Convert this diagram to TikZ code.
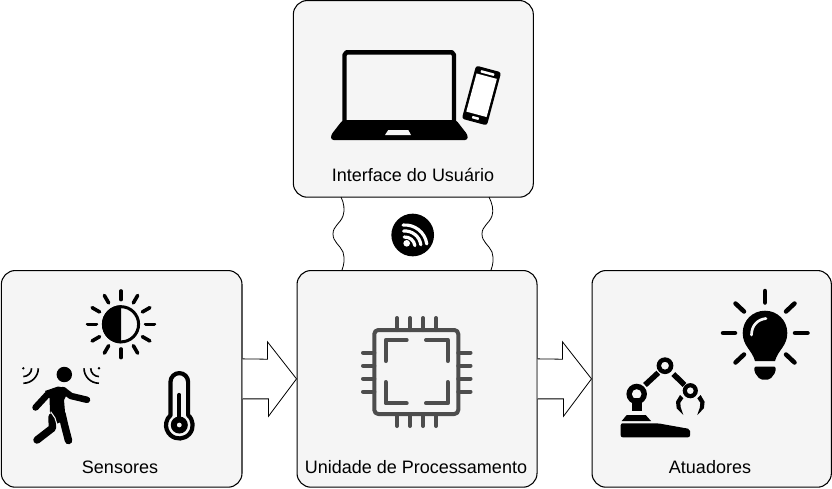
\documentclass[tikz,border=0pt]{standalone}
\usepackage{fontspec}
\setmainfont{Liberation Sans}
\usetikzlibrary{calc}
\definecolor{boxfill}{HTML}{F5F5F5}
\definecolor{chipgray}{HTML}{4D4D4D}
\tikzset{
  x=0.75pt,y=-0.75pt,
  panel/.style={draw=black,fill=boxfill,line width=0.8pt,rounded corners=10.5pt,inner sep=0pt},
  caption/.style={text=black,font=\fontsize{13.5pt}{15pt}\selectfont,inner sep=0pt,anchor=center},
  blockarrow/.style={draw=black,fill=white,line width=0.6pt,line join=miter},
  wavy/.style={draw=black,line width=0.6pt},
  ink/.style={line width=#1*0.75pt,line cap=round,line join=round,draw=black},
  chipline/.style={line width=3pt,line cap=round,line join=round,draw=chipgray},
}
\begin{document}
\begin{tikzpicture}
\useasboundingbox (0,0) rectangle (832,489);
% wavy connection lines
\coordinate (wa) at (341,197); \coordinate (wb) at (342,270);
\coordinate (wc) at (489,197); \coordinate (wd) at (491,270);
% panels
\node[panel,minimum width=180pt,minimum height=147.5pt,anchor=north west] (ui) at (292.8,0) {};
\node[panel,minimum width=180.5pt,minimum height=162.5pt,anchor=north west] (sens) at (0.8,270) {};
\node[panel,minimum width=180pt,minimum height=162.5pt,anchor=north west] (proc) at (296.5,270) {};
\node[panel,minimum width=179.5pt,minimum height=162.5pt,anchor=north west] (act) at (591.5,270) {};
\draw[wavy] (wa) .. controls (344,203) and (345,210) .. (343,216) .. controls (340,224) and (333,226) .. (333,234) .. controls (333,242) and (340,245) .. (343,252) .. controls (345,259) and (344,265) .. (wb);
\draw[wavy] (wc) .. controls (492,203) and (494,210) .. (492,216) .. controls (489,224) and (482,226) .. (482,234) .. controls (482,242) and (489,245) .. (492,252) .. controls (494,259) and (493,265) .. (wd);
% block arrows
\draw[blockarrow] ($(sens.east)+(0,-15pt)$) -- ++(19.5pt,0) -- ++(0,-13pt) -- (proc.west) -- ++(-21.75pt,27.75pt) -- ++(0,-13pt) -- ($(sens.east)+(0,15pt)$);
\draw[blockarrow] ($(proc.east)+(0,-15pt)$) -- ++(19.5pt,0) -- ++(0,-13pt) -- (act.west) -- ++(-21.75pt,27.75pt) -- ++(0,-13pt) -- ($(proc.east)+(0,15pt)$);
% captions
\node[caption] (tui) at (413,174.5) {Interface do Usuário};
\node[caption] (tsens) at (120,467) {Sensores};
\node[caption] (tproc) at (416,467) {Unidade de Processamento};
\node[caption] (tact) at (710,467) {Atuadores};
% wifi badge
\fill (412.7,235) circle[radius=16pt];
\fill[white] (406.7,243.3) circle[radius=2.5pt];
\foreach \r in {7.5,12,16.5}
  \draw[white,line width=2.4pt,line cap=round] (405,247) ++(95:\r pt) arc[start angle=95,end angle=8,radius=\r pt];
% laptop
\draw[black,line width=3.3pt,line join=round] (344.5,122) -- (344.5,55) -- (346.5,52.3) -- (452,52.3) -- (454,55) -- (454,122);
\fill[rounded corners=2pt] (342.7,120) -- (456,120) -- (467.7,135) -- (467.7,140) -- (331,140) -- (331,135) -- cycle;
\fill[boxfill] (388.3,130) -- (408.3,130) -- (411,135) -- (385,135) -- cycle;
% phone
\begin{scope}[shift={(481.5,95.5)},rotate=-15]
  \fill[rounded corners=2pt] (-13,-27.5) rectangle (13,27.5);
  \fill[white] (-10.5,-20) rectangle (10.5,19.5);
  \fill[white,rounded corners=0.5pt] (-7,-24.5) rectangle (7,-22);
  \fill[white,rounded corners=0.5pt] (-3.5,22) rectangle (3.5,24.5);
\end{scope}
% sun
\fill (121,324.3) ++(90:14.25pt) arc[start angle=90,end angle=270,radius=14.25pt] -- cycle;
\draw[ink=3] (121,324.3) circle[radius=13.2pt];
\foreach \a in {0,30,...,330}
  \draw[ink=3.6] (121,324.3) ++(\a:18.5pt) -- ++(\a:6.5pt);
% person
\fill (64.3,374.5) circle[radius=5.8pt];
\fill[line join=round] (45,391) -- (58,386.5) -- (66,388) -- (68,392) -- (64,400) -- (65,412) -- (66,420) -- (56,424) -- (50,412) -- (49.5,398) -- cycle;
\draw[ink=6.5] (51,393) -- (47,395) -- (35.5,407.5);
\draw[ink=6.5] (63,390) -- (71,396) -- (87,399.8);
\draw[ink=7.5] (62,414) -- (64.5,425) -- (68.5,440.5);
\draw[ink=7.5] (52,417) -- (52.5,428) -- (37,440);
\draw[boxfill,line width=0.8pt] (50.7,411.7) -- (55,418) -- (57.3,425.5);
% signal arcs
\fill (23.3,368.3) circle[radius=1pt];
\draw[ink=1.6,line cap=butt] (31.6,368.3) arc[start angle=0,end angle=-90,radius=6.2pt];
\draw[ink=1.6,line cap=butt] (38.3,368.3) arc[start angle=0,end angle=-90,radius=11.2pt];
\fill (99,368.3) circle[radius=1pt];
\draw[ink=1.6,line cap=butt] (90.7,368.3) arc[start angle=180,end angle=270,radius=6.2pt];
\draw[ink=1.6,line cap=butt] (84,368.3) arc[start angle=180,end angle=270,radius=11.2pt];
% thermometer
\draw[ink=4.2] (170.5,415.1) -- (170.5,381.9) arc[start angle=180,end angle=0,radius=6.6pt] -- (188.1,415.1) arc[start angle=49,end angle=-229,radius=10pt];
\draw[ink=4.3] (179.3,395) -- (179.3,420);
\fill[even odd rule] (179.3,425) circle[radius=6.4pt] circle[radius=1.9pt];
% chip
\draw[chipline,rounded corners=3pt] (374.3,330) rectangle (458.3,414);
\foreach \p in {397,410,423,436} {
  \draw[chipline] (\p,318) -- (\p,330);
  \draw[chipline] (\p,414) -- (\p,426);
}
\foreach \p in {352.7,365.7,378.7,391.7} {
  \draw[chipline] (363,\p) -- (374.3,\p);
  \draw[chipline] (458.3,\p) -- (470.5,\p);
}
\draw[chipline] (385.7,361) -- (385.7,340) -- (406.7,340);
\draw[chipline] (426,340) -- (447.7,340) -- (447.7,361);
\draw[chipline] (385.7,382) -- (385.7,403.3) -- (406.7,403.3);
\draw[chipline] (426,403.3) -- (447.7,403.3) -- (447.7,382);
% bulb
\fill (755,361) .. controls (752,350) and (742.7,346) .. (742.7,333) .. controls (742.7,320) and (753,310.7) .. (765,310.7) .. controls (777,310.7) and (787.3,320) .. (787.3,333) .. controls (787.3,346) and (778,350) .. (775,361) -- cycle;
\fill[rounded corners=1.5pt] (754.3,366.5) -- (775.7,366.5) -- (775.7,372) -- (770,379.5) -- (760,379.5) -- (754.3,372) -- cycle;
\draw[boxfill,line width=2pt,line cap=round] (751.5,335) .. controls (751.5,326) and (757,319.5) .. (766,318.5);
\foreach \sx/\sy/\ex/\ey in {765/291/765/302.5, 723/333/735/333, 795/333/807.5/333, 735.5/303.5/744/311.5, 794.5/303.5/786/311.5, 735.5/362.5/744/354.5, 794.5/362.5/786/354.5}
  \draw[ink=4.5] (\sx,\sy) -- (\ex,\ey);
% robot
\fill (631.7,398) rectangle (641.7,410.5);
\fill (626.7,415) -- (645.7,415) -- (651,421) -- (621.7,421) -- cycle;
\fill[rounded corners=1.5pt] (620.7,423.3) -- (658,423.3) -- (690,429) -- (690,437.3) -- (620.7,437.3) -- cycle;
\draw[ink=5.5,line cap=butt] (645,385) -- (658.3,372.7);
\draw[ink=5.5,line cap=butt] (673.3,374) -- (684.5,385);
\fill[even odd rule] (636.7,394) circle[radius=7.7pt] circle[radius=3.7pt];
\fill[even odd rule] (665,365.7) circle[radius=6.3pt] circle[radius=3pt];
\fill[even odd rule] (690.3,390.7) circle[radius=5.7pt] circle[radius=2.6pt];
\fill (680,395) -- (676,401.7) -- (676.7,408.3) -- (683.3,415) -- (680.7,407.3) -- (680.3,402.7) -- (683.3,398.3) -- cycle;
\fill (700.6,395) -- (704.6,401.7) -- (703.9,408.3) -- (697.3,415) -- (699.9,407.3) -- (700.3,402.7) -- (697.3,398.3) -- cycle;
\end{tikzpicture}
\end{document}
